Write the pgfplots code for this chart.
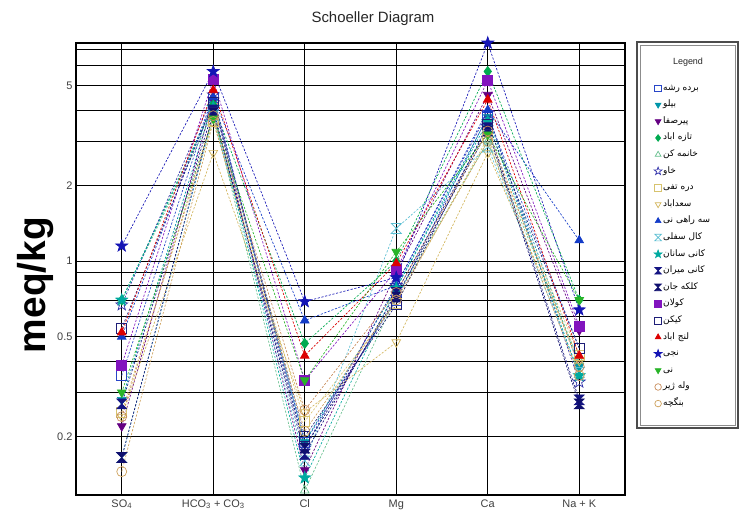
\documentclass[border=0pt]{standalone}
\usepackage{pgfplots}
\pgfplotsset{compat=1.18}
\usepackage{fontspec}
\setmainfont{Liberation Sans}
\newfontfamily\arabicfont[Script=Arabic]{DejaVu Sans}
\TeXXeTstate=1
\newcommand{\ar}[1]{{\arabicfont\beginR #1\endR}}
\usetikzlibrary{plotmarks}

\pgfdeclareplotmark{hglass*}{%
  \pgfpathmoveto{\pgfqpoint{-\pgfplotmarksize}{\pgfplotmarksize}}%
  \pgfpathlineto{\pgfqpoint{\pgfplotmarksize}{\pgfplotmarksize}}%
  \pgfpathlineto{\pgfqpoint{-\pgfplotmarksize}{-\pgfplotmarksize}}%
  \pgfpathlineto{\pgfqpoint{\pgfplotmarksize}{-\pgfplotmarksize}}%
  \pgfpathclose\pgfusepathqfillstroke}
\pgfdeclareplotmark{hglass}{%
  \pgfpathmoveto{\pgfqpoint{-\pgfplotmarksize}{\pgfplotmarksize}}%
  \pgfpathlineto{\pgfqpoint{\pgfplotmarksize}{\pgfplotmarksize}}%
  \pgfpathlineto{\pgfqpoint{-\pgfplotmarksize}{-\pgfplotmarksize}}%
  \pgfpathlineto{\pgfqpoint{\pgfplotmarksize}{-\pgfplotmarksize}}%
  \pgfpathclose\pgfusepathqstroke}
\newcommand{\starpath}{%
  \pgfpathmoveto{\pgfqpoint{0pt}{1.25\pgfplotmarksize}}%
  \pgfpathlineto{\pgfqpoint{-0.294\pgfplotmarksize}{0.405\pgfplotmarksize}}%
  \pgfpathlineto{\pgfqpoint{-1.189\pgfplotmarksize}{0.386\pgfplotmarksize}}%
  \pgfpathlineto{\pgfqpoint{-0.476\pgfplotmarksize}{-0.155\pgfplotmarksize}}%
  \pgfpathlineto{\pgfqpoint{-0.735\pgfplotmarksize}{-1.011\pgfplotmarksize}}%
  \pgfpathlineto{\pgfqpoint{0pt}{-0.5\pgfplotmarksize}}%
  \pgfpathlineto{\pgfqpoint{0.735\pgfplotmarksize}{-1.011\pgfplotmarksize}}%
  \pgfpathlineto{\pgfqpoint{0.476\pgfplotmarksize}{-0.155\pgfplotmarksize}}%
  \pgfpathlineto{\pgfqpoint{1.189\pgfplotmarksize}{0.386\pgfplotmarksize}}%
  \pgfpathlineto{\pgfqpoint{0.294\pgfplotmarksize}{0.405\pgfplotmarksize}}%
  \pgfpathclose}
\pgfdeclareplotmark{fstar}{\starpath\pgfusepathqfillstroke}
\pgfdeclareplotmark{ostar}{\starpath\pgfusepathqstroke}

\definecolor{cBR}{RGB}{40,70,200}
\definecolor{cBL}{RGB}{0,150,170}
\definecolor{cPS}{RGB}{100,0,130}
\definecolor{cTA}{RGB}{0,170,80}
\definecolor{cKK}{RGB}{100,190,140}
\definecolor{cKH}{RGB}{50,50,170}
\definecolor{cDT}{RGB}{215,195,110}
\definecolor{cSA}{RGB}{210,180,90}
\definecolor{cSR}{RGB}{20,60,200}
\definecolor{cKS}{RGB}{90,190,210}
\definecolor{cKN}{RGB}{0,170,160}
\definecolor{cKM}{RGB}{20,20,130}
\definecolor{cKJ}{RGB}{15,15,110}
\definecolor{cKL}{RGB}{130,20,190}
\definecolor{cKY}{RGB}{30,30,120}
\definecolor{cLA}{RGB}{220,0,0}
\definecolor{cNJ}{RGB}{20,20,180}
\definecolor{cNI}{RGB}{40,180,40}
\definecolor{cVZ}{RGB}{200,140,90}
\definecolor{cBN}{RGB}{205,160,90}

\pgfplotsset{
  ser/.style={color=#1, dash pattern=on 2.2pt off 1.6pt, line width=0.65bp,
    mark size=5bp, mark options={solid, fill=#1, line width=0.7bp}},
  down/.style={mark options={solid, fill=#1, line width=0.7bp, rotate=180}},
}

\begin{document}
\begin{tikzpicture}
\path[use as bounding box] (-76bp,-20bp) rectangle (664bp,495bp);
\begin{axis}[
  at={(0,0)}, anchor=south west, scale only axis,
  width=549bp, height=452bp,
  xmin=-0.5, xmax=5.5,
  ymode=log, ymin=0.117, ymax=7.4,
  clip=false,
  axis line style={line width=2.4bp},
  major tick length=0pt,
  xtick={0,1,2,3,4,5},
  xticklabels={SO\textsubscript{4}, HCO\textsubscript{3} + CO\textsubscript{3}, Cl, Mg, Ca, Na + K},
  ytick={0.2,0.3,0.4,0.5,0.6,0.7,0.8,0.9,1,2,3,4,5,6,7},
  yticklabels={0.2,,,0.5,,,,,1,2,,,5,,},
  grid=major,
  major grid style={black, line width=0.8bp},
  tick label style={font=\fontsize{11}{13}\selectfont, color=black!75},
  xticklabel style={yshift=-1bp},
  legend cell align=left,
  legend image code/.code={\draw[#1, mark size=3.3bp] plot[only marks] coordinates {(0.1cm,0cm)};},
  legend style={draw=none, fill=none, inner sep=0pt, anchor=north west,
    at={(rel axis cs:1.0528,0.912)}, font=\fontsize{9}{10}\selectfont,
    row sep=6.2bp, nodes={inner sep=1.2bp, text height=6bp, text depth=2bp}},
]
\addplot[ser=cBR, mark=square] coordinates {(0,0.35) (1,4.5) (2,0.19) (3,0.70) (4,3.8) (5,0.45)};
\addlegendentry{\ar{برده رشه}}
\addplot[ser=cBL, mark=triangle*, down=cBL] coordinates {(0,0.28) (1,4.3) (2,0.19) (3,0.78) (4,3.75) (5,0.38)};
\addlegendentry{\ar{بیلو}}
\addplot[ser=cPS, mark=triangle*, down=cPS] coordinates {(0,0.22) (1,4.4) (2,0.147) (3,0.90) (4,4.6) (5,0.53)};
\addlegendentry{\ar{پیرصفا}}
\addplot[ser=cTA, mark=diamond*] coordinates {(0,0.70) (1,4.2) (2,0.47) (3,1.0) (4,5.7) (5,0.70)};
\addlegendentry{\ar{تازه اباد}}
\addplot[ser=cKK, mark=triangle] coordinates {(0,0.70) (1,3.9) (2,0.122) (3,0.72) (4,3.0) (5,0.40)};
\addlegendentry{\ar{خانمه کن}}
\addplot[ser=cKH, mark=ostar] coordinates {(0,0.67) (1,4.6) (2,0.18) (3,0.80) (4,3.9) (5,0.33)};
\addlegendentry{\ar{خاو}}
\addplot[ser=cDT, mark=square] coordinates {(0,0.25) (1,3.6) (2,0.23) (3,0.68) (4,3.1) (5,0.42)};
\addlegendentry{\ar{دره تفی}}
\addplot[ser=cSA, mark=triangle, down=cSA] coordinates {(0,0.24) (1,2.7) (2,0.25) (3,0.475) (4,2.7) (5,0.40)};
\addlegendentry{\ar{سعداباد}}
\addplot[ser=cSR, mark=triangle*] coordinates {(0,0.50) (1,4.5) (2,0.58) (3,0.80) (4,4.0) (5,1.21)};
\addlegendentry{\ar{سه راهی نی}}
\addplot[ser=cKS, mark=hglass] coordinates {(0,0.165) (1,3.8) (2,0.16) (3,1.35) (4,2.85) (5,0.36)};
\addlegendentry{\ar{کال سفلی}}
\addplot[ser=cKN, mark=fstar] coordinates {(0,0.70) (1,4.1) (2,0.137) (3,0.78) (4,3.6) (5,0.35)};
\addlegendentry{\ar{کانی سانان}}
\addplot[ser=cKM, mark=hglass*] coordinates {(0,0.27) (1,4.0) (2,0.17) (3,0.75) (4,3.4) (5,0.28)};
\addlegendentry{\ar{کانی میران}}
\addplot[ser=cKJ, mark=hglass*] coordinates {(0,0.165) (1,3.9) (2,0.18) (3,0.72) (4,3.3) (5,0.27)};
\addlegendentry{\ar{کلکه جان}}
\addplot[ser=cKL, mark=square*] coordinates {(0,0.385) (1,5.3) (2,0.335) (3,0.92) (4,5.25) (5,0.55)};
\addlegendentry{\ar{کولان}}
\addplot[ser=cKY, mark=square] coordinates {(0,0.54) (1,4.3) (2,0.20) (3,0.67) (4,3.5) (5,0.45)};
\addlegendentry{\ar{کیکن}}
\addplot[ser=cLA, mark=triangle*] coordinates {(0,0.52) (1,4.8) (2,0.42) (3,0.98) (4,4.4) (5,0.42)};
\addlegendentry{\ar{لنج اباد}}
\addplot[ser=cNJ, mark=fstar] coordinates {(0,1.15) (1,5.7) (2,0.69) (3,0.86) (4,7.4) (5,0.64)};
\addlegendentry{\ar{نجی}}
\addplot[ser=cNI, mark=triangle*, down=cNI] coordinates {(0,0.30) (1,3.7) (2,0.335) (3,1.09) (4,3.2) (5,0.70)};
\addlegendentry{\ar{نی}}
\addplot[ser=cVZ, mark=o] coordinates {(0,0.24) (1,3.8) (2,0.255) (3,0.75) (4,3.3) (5,0.38)};
\addlegendentry{\ar{وله ژیر}}
\addplot[ser=cBN, mark=o] coordinates {(0,0.145) (1,3.6) (2,0.21) (3,0.70) (4,3.0) (5,0.35)};
\addlegendentry{\ar{بنگچه}}
\end{axis}
\node[font=\fontsize{15}{18}\selectfont, color=black!85] at (297bp,476bp) {Schoeller Diagram};
\node[rotate=90, font=\fontsize{39}{44}\bfseries] at (-40bp,210bp) {meq/kg};
\draw[line width=1.4bp, black!70] (561bp,453bp) rectangle (662bp,67bp);
\draw[line width=0.6bp, black!45] (564bp,450bp) rectangle (659bp,70bp);
\node[font=\fontsize{9}{11}\selectfont, color=black!85] at (612bp,433bp) {Legend};
\end{tikzpicture}
\end{document}
